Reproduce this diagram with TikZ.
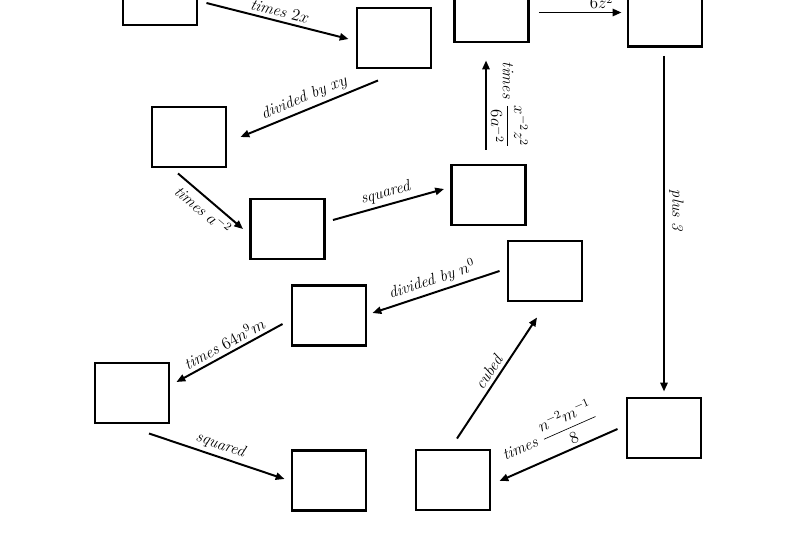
\documentclass[tikz,border=0pt]{standalone}
\usepackage{amsmath,amssymb}
\usepackage{tikz}
\usetikzlibrary{arrows.meta,positioning}

\begin{document}
\begin{tikzpicture}[
  x=0.025cm, y=-0.025cm,
  blank/.style={
    rectangle, draw=black, line width=2.1pt,
    minimum width=1.85cm, minimum height=1.5cm, inner sep=0pt
  },
  arrow/.style={-{Triangle[length=2.2mm,width=1.8mm]}, line width=1.4pt, draw=black},
  lab/.style={font=\fontsize{11.5}{14}\selectfont\itshape, midway, sloped, inner sep=2.5pt},
  vlab/.style={font=\fontsize{11.5}{14}\selectfont\itshape, midway, rotate=-90, anchor=south, inner sep=3pt}
]
\useasboundingbox (0,0) rectangle (800,533);
\clip (0,0) rectangle (800,533);
% Upper boxes
\node[blank] (b1)  at (160,-5)    {};
\node[blank] (b2)  at (394,38)    {};
\node[blank] (b3)  at (189,137)   {};
\node[blank] (b4)  at (287.5,229) {};
\node[blank] (b5)  at (488.5,195) {};
\node[blank] (b6)  at (491.5,12)  {};
\node[blank] (b7)  at (665,16.5)  {};
% Lower boxes
\node[blank] (b8)  at (664,428)   {};
\node[blank] (b9)  at (453,480)   {};
\node[blank] (b10) at (545,271)   {};
\node[blank] (b11) at (329,315.5) {};
\node[blank] (b12) at (132,393)   {};
\node[blank] (b13) at (329,480.5) {};
% Arrows
\draw[arrow] ([shift={(8,8)}]b1.east)      -- ([shift={(-7,1)}]b2.west)    node[lab, above] {times $2x$};
\draw[arrow] ([shift={(-16,11)}]b2.south)  -- ([shift={(13,0)}]b3.east)    node[lab, above] {divided by $xy$};
\draw[arrow] ([shift={(-11,5)}]b3.south)   -- ([shift={(-6,0)}]b4.west)    node[lab, below] {times $a^{-2}$};
\draw[arrow] ([shift={(7,-9)}]b4.east)     -- ([shift={(-6,-6)}]b5.west)   node[lab, above] {squared};
\draw[arrow] ([shift={(-2.5,-14)}]b5.north) -- ([shift={(-5.5,17)}]b6.south) node[vlab] {times $\dfrac{x^{-2}z^2}{6a^{-2}}$};
\draw[arrow] ([shift={(9,0.5)}]b6.east)    -- ([shift={(-5,-4)}]b7.west)   node[lab, above] {times $\dfrac{\phantom{x^{2}}}{6z^2}$};
\draw[arrow] ([shift={(-1,8)}]b7.south)    -- ([shift={(0,-5)}]b8.north)   node[vlab, pos=0.46] {plus 3};
\draw[arrow] ([shift={(-8,1)}]b8.west)     -- ([shift={(8,1)}]b9.east)     node[lab, above] {times $\dfrac{n^{-2}m^{-1}}{8}$};
\draw[arrow] ([shift={(4,-10)}]b9.north)   -- ([shift={(-8,15)}]b10.south) node[lab, above] {cubed};
\draw[arrow] ([shift={(-7,0)}]b10.west)    -- ([shift={(5,-2.5)}]b11.east) node[lab, above] {divided by $n^0$};
\draw[arrow] ([shift={(-8,8.5)}]b11.west)  -- ([shift={(6,-11)}]b12.east)  node[lab, above] {times $64n^9m$};
\draw[arrow] ([shift={(17,9)}]b12.south)   -- ([shift={(-6,-1.5)}]b13.west) node[lab, above] {squared};
\end{tikzpicture}
\end{document}
